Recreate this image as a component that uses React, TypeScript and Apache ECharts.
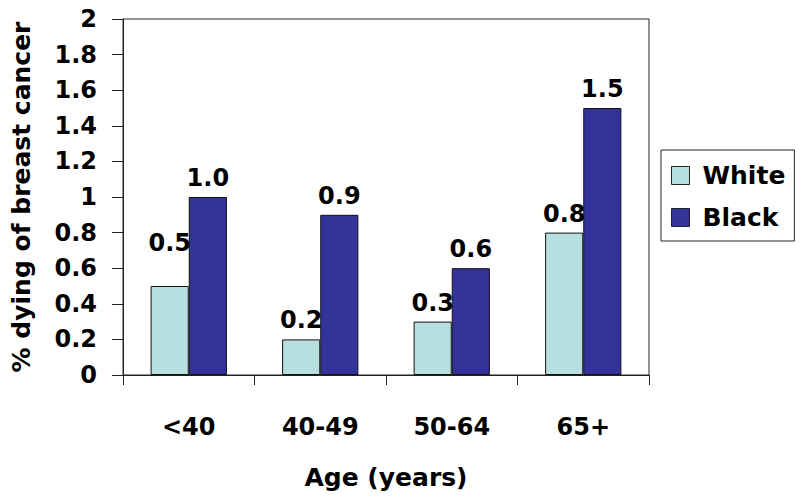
import React, { useEffect, useRef } from "react";
import * as echarts from "echarts";

const categories = ["<40", "40-49", "50-64", "65+"];
const whiteValues = [0.5, 0.2, 0.3, 0.8];
const blackValues = [1.0, 0.9, 0.6, 1.5];
const seriesNames = ["White", "Black"];
const xAxisTitle = "Age (years)";
const yAxisTitle = "% dying of breast cancer";

const FONT = "DejaVu Sans";

export default function App() {
  const ref = useRef<HTMLDivElement>(null);
  useEffect(() => {
    if (!ref.current) return;
    const chart = echarts.init(ref.current, null, { renderer: "svg" });
    const labelBase = {
      show: true,
      position: "top",
      distance: 7,
      color: "#000",
      fontFamily: FONT,
      fontWeight: "bold",
      fontSize: 24,
      formatter: (p: any) => Number(p.value).toFixed(1),
    };
    chart.setOption({
      animation: false,
      backgroundColor: "#fff",
      grid: {
        left: 123,
        right: 151,
        top: 19,
        bottom: 128,
        show: true,
        borderColor: "#222",
        borderWidth: 1,
      },
      legend: {
        orient: "vertical",
        left: 661,
        top: 150,
        padding: [13, 9, 11, 10],
        itemGap: 17,
        itemWidth: 18,
        itemHeight: 18,
        borderColor: "#222",
        borderWidth: 1,
        icon: "rect",
        itemStyle: { borderColor: "#222", borderWidth: 1 },
        textStyle: {
          fontFamily: FONT,
          fontWeight: "bold",
          fontSize: 25,
          color: "#000",
          padding: [0, 0, 0, 8],
        },
        data: seriesNames,
      },
      xAxis: {
        type: "category",
        data: categories,
        name: xAxisTitle,
        nameLocation: "middle",
        nameGap: 90,
        nameTextStyle: { fontFamily: FONT, fontWeight: "bold", fontSize: 25, color: "#000" },
        axisLine: { lineStyle: { color: "#222", width: 1 } },
        axisTick: { show: true, length: 10, lineStyle: { color: "#222" } },
        axisLabel: {
          margin: 40,
          fontFamily: FONT,
          fontWeight: "bold",
          fontSize: 24,
          color: "#000",
        },
        splitLine: { show: false },
      },
      yAxis: {
        type: "value",
        min: 0,
        max: 2,
        interval: 0.2,
        name: yAxisTitle,
        nameLocation: "middle",
        nameGap: 89,
        nameTextStyle: { fontFamily: FONT, fontWeight: "bold", fontSize: 25, color: "#000" },
        axisLine: { show: true, lineStyle: { color: "#222", width: 1 } },
        axisTick: { show: true, length: 11, lineStyle: { color: "#222" } },
        axisLabel: {
          margin: 26,
          fontFamily: FONT,
          fontWeight: "bold",
          fontSize: 24,
          color: "#000",
          formatter: (v: number) => String(Number(v.toFixed(1))),
        },
        splitLine: { show: false },
      },
      series: [
        {
          name: seriesNames[0],
          type: "bar",
          barWidth: "29%",
          barGap: "0%",
          itemStyle: { color: "#B8DFE0", borderColor: "#111", borderWidth: 1 },
          label: labelBase,
          data: whiteValues.map((v, i) =>
            i === 0 ? { value: v, label: { offset: [0, -24] } } : v
          ),
        },
        {
          name: seriesNames[1],
          type: "bar",
          barWidth: "29%",
          barGap: "0%",
          itemStyle: { color: "#333399", borderColor: "#111", borderWidth: 1 },
          label: labelBase,
          data: blackValues,
        },
      ],
    });
    return () => chart.dispose();
  }, []);
  return <div ref={ref} style={{ width: 800, height: 503, position: "absolute", left: 0, top: 0 }} />;
}
